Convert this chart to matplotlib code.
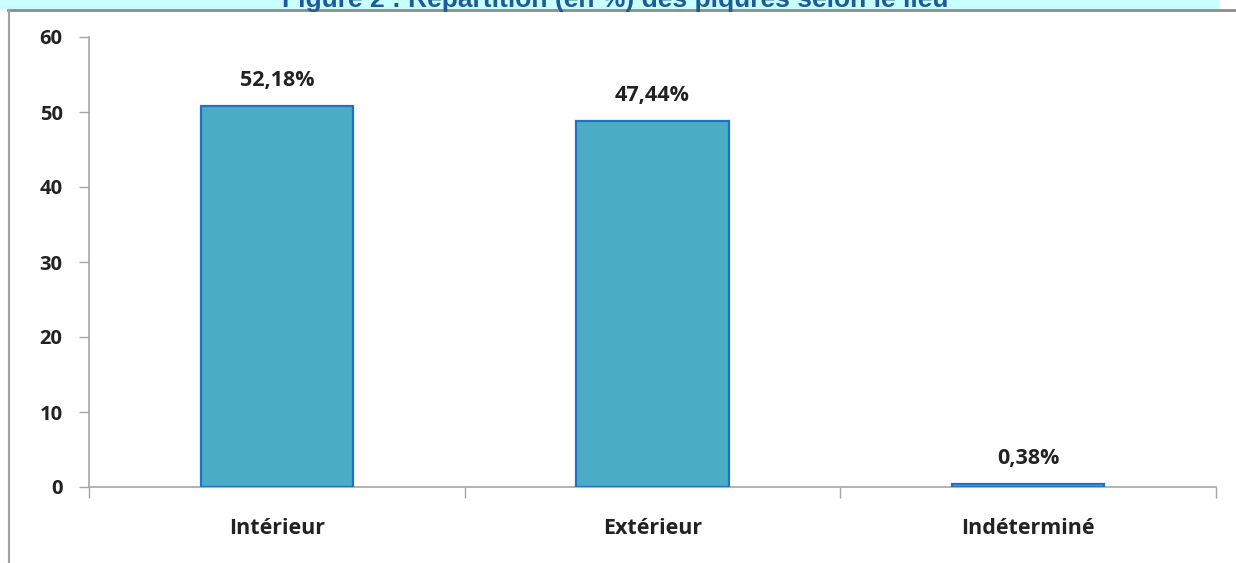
import numpy as np
import matplotlib.pyplot as plt
from matplotlib.lines import Line2D
from matplotlib.patches import Rectangle

# data
categories = ["Intérieur", "Extérieur", "Indéterminé"]
heights = [50.8, 48.8, 0.38]          # bar heights as drawn
labels = ["52,18%", "47,44%", "0,38%"]  # printed labels
yticks = [0, 10, 20, 30, 40, 50, 60]

title = "Figure 2 : Répartition (en %) des piqûres selon le lieu"

fig = plt.figure(figsize=(12.36, 5.63), dpi=100)
ax = fig.add_axes([89/1236, 1 - 487/563, (1216 - 89)/1236, (487 - 37)/563])

x = np.arange(len(categories))
ax.bar(x, heights, width=0.405, color="#4BACC6", edgecolor="#1F72C4", linewidth=1.6, zorder=3)

for xi, h, lab in zip(x, heights, labels):
    ax.annotate(lab, (xi, h), xytext=(0, 11), textcoords="offset points",
                ha="center", va="bottom", fontsize=15.5, fontweight="bold",
                family="Open Sans", color="#222222")

ax.set_xlim(-0.5, 2.5)
ax.set_ylim(0, 60)
ax.set_yticks(yticks)
ax.set_xticks(x)
ax.set_xticklabels(categories)
ax.set_xticks([-0.5, 0.5, 1.5, 2.5], minor=True)

for s in ["top", "right"]:
    ax.spines[s].set_visible(False)
for s in ["left", "bottom"]:
    ax.spines[s].set_color("#A6A6A6")
    ax.spines[s].set_linewidth(1.2)

ax.tick_params(axis="y", direction="out", length=7, width=1, color="#A6A6A6", pad=12)
ax.tick_params(axis="x", which="major", length=0, pad=22)
ax.tick_params(axis="x", which="minor", direction="out", length=8, width=1, color="#A6A6A6")
for t in ax.get_yticklabels():
    t.set_fontsize(14.5)
for t in ax.get_xticklabels():
    t.set_fontsize(15.5)
for t in ax.get_yticklabels() + ax.get_xticklabels():
    t.set_fontfamily("Open Sans")
    t.set_fontweight("bold")
    t.set_color("#222222")

# cyan title band and frame lines (cropped screenshot look)
fig.patches.append(Rectangle((0, 1 - 9/563), 1220/1236, 9/563, transform=fig.transFigure,
                             facecolor="#C8FFFF", edgecolor="none", zorder=0))
fig.text(0.498, 1 - 7/563, title, ha="center", va="baseline", fontsize=19, fontweight="bold",
         family="Liberation Sans", color="#1F5A96")
fig.lines.append(Line2D([8/1236, 1], [1 - 9.5/563, 1 - 9.5/563], transform=fig.transFigure,
                        color="#8C8C8C", linewidth=2))
fig.lines.append(Line2D([8.5/1236, 8.5/1236], [0, 1 - 9.5/563], transform=fig.transFigure,
                        color="#A0A0A0", linewidth=1.5))

fig.savefig("out.png", dpi=100)
